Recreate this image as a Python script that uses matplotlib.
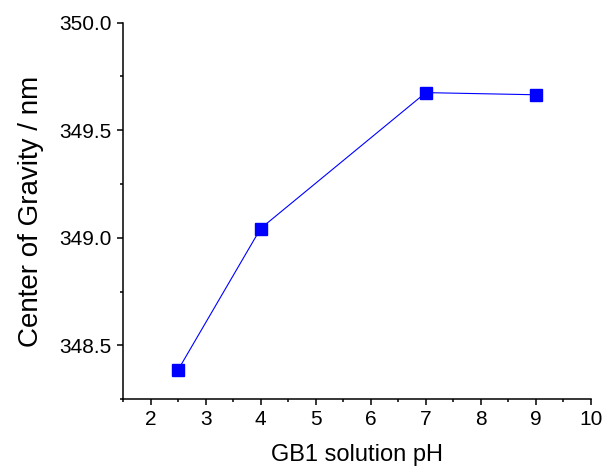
import numpy as np
from matplotlib import pyplot as plt
from matplotlib.ticker import MultipleLocator

# data
ph = [2.5, 4, 7, 9]
cog = [348.385, 349.043, 349.675, 349.665]

plt.rcParams['font.family'] = ['Liberation Sans', 'DejaVu Sans']

fig = plt.figure(figsize=(6.07, 4.68), dpi=100)
ax = fig.add_axes([0.2026, 0.1474, 0.771, 0.804])

ax.plot(ph, cog, color='#0000ff', lw=0.8, marker='s', markersize=8,
        markerfacecolor='#0000ff', markeredgecolor='#0000ff')

ax.set_xlim(1.5, 10)
ax.set_ylim(348.25, 350.0)
ax.xaxis.set_major_locator(MultipleLocator(1))
ax.xaxis.set_minor_locator(MultipleLocator(0.5))
ax.yaxis.set_major_locator(MultipleLocator(0.5))
ax.yaxis.set_minor_locator(MultipleLocator(0.25))
ax.yaxis.set_major_formatter(plt.FormatStrFormatter('%.1f'))

for s in ['top', 'right']:
    ax.spines[s].set_visible(False)
for s in ['left', 'bottom']:
    ax.spines[s].set_linewidth(1.1)

ax.tick_params(which='major', direction='out', length=4.5, width=1.1, labelsize=15)
ax.tick_params(which='minor', direction='out', length=2.5, width=1.1)

ax.set_xlabel('GB1 solution pH', fontsize=17, labelpad=11)
ax.set_ylabel('Center of Gravity / nm', fontsize=20, labelpad=11)

fig.savefig('out.png', dpi=100)
